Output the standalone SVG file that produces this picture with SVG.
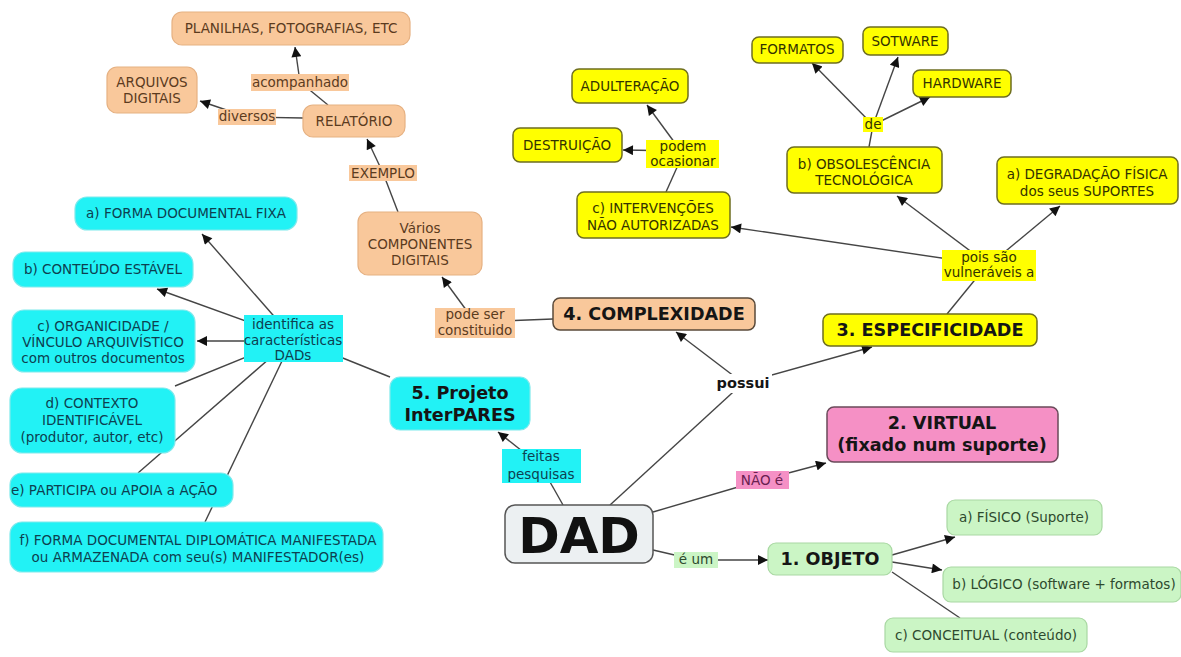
<svg xmlns="http://www.w3.org/2000/svg" width="1181" height="657" viewBox="0 0 1181 657">
<style>
text{font-family:"DejaVu Sans","Verdana",sans-serif;font-size:13.5px;text-anchor:middle}
.b{font-weight:bold;font-size:17.6px;fill:#151515}
.o{fill:#F9C89B;stroke:#E6B182;stroke-width:1.2}
.ol{fill:#F9C89B}
.ot{fill:#5b3b1e}
.y{fill:#FFFF00;stroke:#6e6e20;stroke-width:1.5}
.yl{fill:#FFFF00}
.yt{fill:#333300}
.c{fill:#22F2F5;stroke:#7FE9EC;stroke-width:1.2}
.cl{fill:#22F2F5}
.ct{fill:#0d4050}
.g{fill:#CBF5C5;stroke:#A9D8A3;stroke-width:1.2}
.gl{fill:#CBF5C5}
.gt{fill:#2e4a2e}
.p{fill:#F590C5;stroke:#6a4a5a;stroke-width:1.5}
.pl{fill:#F590C5}
.pt{fill:#6a2050}
.ln{stroke:#454545;stroke-width:1.4;fill:none}
</style>
<defs>
<marker id="ar" viewBox="0 0 10 10" refX="10" refY="5" markerWidth="12" markerHeight="10" orient="auto" markerUnits="userSpaceOnUse">
<path d="M0,0 L10,5 L0,10 z" fill="#111"/>
</marker>
</defs>
<rect width="1181" height="657" fill="#fff"/>

<g id="connectors">
<line class="ln" x1="328" y1="105" x2="300" y2="82"/>
<line class="ln" x1="300" y1="82" x2="295" y2="47" marker-end="url(#ar)"/>
<line class="ln" x1="303" y1="118" x2="247" y2="117"/>
<line class="ln" x1="247" y1="117" x2="200" y2="101" marker-end="url(#ar)"/>
<line class="ln" x1="398" y1="212" x2="383" y2="173"/>
<line class="ln" x1="383" y1="173" x2="367" y2="139" marker-end="url(#ar)"/>
<line class="ln" x1="553" y1="319" x2="475" y2="322"/>
<line class="ln" x1="475" y1="322" x2="442" y2="277" marker-end="url(#ar)"/>
<line class="ln" x1="610" y1="505" x2="743" y2="383"/>
<line class="ln" x1="743" y1="383" x2="676" y2="332" marker-end="url(#ar)"/>
<line class="ln" x1="743" y1="383" x2="872" y2="347" marker-end="url(#ar)"/>
<line class="ln" x1="947" y1="314" x2="987" y2="265"/>
<line class="ln" x1="989" y1="265" x2="897" y2="196" marker-end="url(#ar)"/>
<line class="ln" x1="989" y1="265" x2="1060" y2="206" marker-end="url(#ar)"/>
<line class="ln" x1="989" y1="265" x2="731" y2="227" marker-end="url(#ar)"/>
<line class="ln" x1="869" y1="147" x2="873" y2="125"/>
<line class="ln" x1="873" y1="125" x2="812" y2="63" marker-end="url(#ar)"/>
<line class="ln" x1="873" y1="125" x2="898" y2="57" marker-end="url(#ar)"/>
<line class="ln" x1="873" y1="125" x2="930" y2="97" marker-end="url(#ar)"/>
<line class="ln" x1="666" y1="192" x2="683" y2="154"/>
<line class="ln" x1="683" y1="154" x2="647" y2="105" marker-end="url(#ar)"/>
<line class="ln" x1="683" y1="151" x2="623" y2="150" marker-end="url(#ar)"/>
<line class="ln" x1="390" y1="377" x2="293" y2="338"/>
<line class="ln" x1="293" y1="338" x2="202" y2="234" marker-end="url(#ar)"/>
<line class="ln" x1="293" y1="338" x2="157" y2="289" marker-end="url(#ar)"/>
<line class="ln" x1="293" y1="341" x2="197" y2="341" marker-end="url(#ar)"/>
<line class="ln" x1="293" y1="338" x2="175" y2="386"/>
<line class="ln" x1="293" y1="338" x2="138" y2="473"/>
<line class="ln" x1="293" y1="338" x2="205" y2="522"/>
<line class="ln" x1="563" y1="505" x2="541" y2="466"/>
<line class="ln" x1="541" y1="466" x2="498" y2="432" marker-end="url(#ar)"/>
<line class="ln" x1="653" y1="512" x2="762" y2="480"/>
<line class="ln" x1="762" y1="480" x2="826" y2="463" marker-end="url(#ar)"/>
<line class="ln" x1="653" y1="550" x2="696" y2="560"/>
<line class="ln" x1="696" y1="560" x2="768" y2="560" marker-end="url(#ar)"/>
<line class="ln" x1="892" y1="555" x2="955" y2="537" marker-end="url(#ar)"/>
<line class="ln" x1="892" y1="562" x2="942" y2="570" marker-end="url(#ar)"/>
<line class="ln" x1="892" y1="572" x2="960" y2="618"/>
</g>

<g id="n-planilhas"><rect class="o" x="172" y="12" width="238" height="33" rx="10"/><text class="ot" x="291" y="33">PLANILHAS, FOTOGRAFIAS, ETC</text></g>
<g id="n-arquivos"><rect class="o" x="107" y="67" width="90" height="46" rx="10"/><text class="ot" x="152" y="87">ARQUIVOS</text><text class="ot" x="152" y="103">DIGITAIS</text></g>
<g id="n-relatorio"><rect class="o" x="303" y="105" width="102" height="32" rx="10"/><text class="ot" x="354" y="126">RELATÓRIO</text></g>
<g id="n-varios"><rect class="o" x="358" y="212" width="124" height="63" rx="10"/><text class="ot" x="420" y="233">Vários</text><text class="ot" x="420" y="249">COMPONENTES</text><text class="ot" x="420" y="265">DIGITAIS</text></g>
<g id="n-complexidade"><rect class="o" x="553" y="298" width="202" height="32" rx="7" style="stroke:#5a4a3a;stroke-width:1.5"/><text class="b" x="654" y="320">4. COMPLEXIDADE</text></g>
<g id="l-acompanhado"><rect class="ol" x="251" y="74" width="98" height="17"/><text class="ot" x="300" y="87">acompanhado</text></g>
<g id="l-diversos"><rect class="ol" x="218" y="109" width="58" height="16"/><text class="ot" x="247" y="121">diversos</text></g>
<g id="l-exemplo"><rect class="ol" x="349" y="165" width="68" height="16"/><text class="ot" x="383" y="178">EXEMPLO</text></g>
<g id="l-pode"><rect class="ol" x="435" y="308" width="80" height="30"/><text class="ot" x="475" y="319">pode ser</text><text class="ot" x="475" y="335">constituido</text></g>

<g id="n-adulteracao"><rect class="y" x="572" y="69" width="116" height="34" rx="7"/><text class="yt" x="630" y="91">ADULTERAÇÃO</text></g>
<g id="n-destruicao"><rect class="y" x="513" y="128" width="109" height="34" rx="7"/><text class="yt" x="567" y="150">DESTRUIÇÃO</text></g>
<g id="n-intervencoes"><rect class="y" x="577" y="192" width="153" height="46" rx="7"/><text class="yt" x="653" y="213">c) INTERVENÇÕES</text><text class="yt" x="653" y="230">NÃO AUTORIZADAS</text></g>
<g id="n-formatos"><rect class="y" x="752" y="37" width="91" height="26" rx="7"/><text class="yt" x="797" y="54">FORMATOS</text></g>
<g id="n-sotware"><rect class="y" x="863" y="27" width="85" height="28" rx="7"/><text class="yt" x="905" y="46">SOTWARE</text></g>
<g id="n-hardware"><rect class="y" x="913" y="70" width="98" height="27" rx="7"/><text class="yt" x="962" y="88">HARDWARE</text></g>
<g id="n-obsolescencia"><rect class="y" x="787" y="147" width="155" height="46" rx="7"/><text class="yt" x="864" y="169">b) OBSOLESCÊNCIA</text><text class="yt" x="864" y="185">TECNOLÓGICA</text></g>
<g id="n-degradacao"><rect class="y" x="997" y="157" width="181" height="47" rx="7"/><text class="yt" x="1087" y="179">a) DEGRADAÇÃO FÍSICA</text><text class="yt" x="1087" y="196">dos seus SUPORTES</text></g>
<g id="n-especificidade"><rect class="y" x="823" y="314" width="214" height="32" rx="7"/><text class="b" x="930" y="336">3. ESPECIFICIDADE</text></g>
<g id="l-podem"><rect class="yl" x="646" y="140" width="73" height="28"/><text class="yt" x="683" y="151">podem</text><text class="yt" x="683" y="166">ocasionar</text></g>
<g id="l-de"><rect class="yl" x="863" y="117" width="20" height="15"/><text class="yt" x="873" y="129">de</text></g>
<g id="l-pois"><rect class="yl" x="942" y="250" width="94" height="31"/><text class="yt" x="989" y="262">pois são</text><text class="yt" x="989" y="277">vulneráveis a</text></g>

<g id="n-forma"><rect class="c" x="75" y="197" width="222" height="33" rx="12"/><text class="ct" x="186" y="218">a) FORMA DOCUMENTAL FIXA</text></g>
<g id="n-conteudo"><rect class="c" x="13" y="252" width="180" height="35" rx="12"/><text class="ct" x="103" y="274">b) CONTEÚDO ESTÁVEL</text></g>
<g id="n-organicidade"><rect class="c" x="12" y="310" width="183" height="62" rx="12"/><text class="ct" x="103" y="331">c) ORGANICIDADE /</text><text class="ct" x="103" y="347">VÍNCULO ARQUIVÍSTICO</text><text class="ct" x="103" y="363">com outros documentos</text></g>
<g id="n-contexto"><rect class="c" x="10" y="388" width="165" height="65" rx="12"/><text class="ct" x="92" y="408">d) CONTEXTO</text><text class="ct" x="92" y="425">IDENTIFICÁVEL</text><text class="ct" x="92" y="442">(produtor, autor, etc)</text></g>
<g id="n-participa"><rect class="c" x="10" y="473" width="223" height="34" rx="12"/><text class="ct" x="11" y="495" style="text-anchor:start">e) PARTICIPA ou APOIA a AÇÃO</text></g>
<g id="n-diplomatica"><rect class="c" x="10" y="522" width="373" height="50" rx="12"/><text class="ct" x="198" y="545">f) FORMA DOCUMENTAL DIPLOMÁTICA MANIFESTADA</text><text class="ct" x="198" y="562">ou ARMAZENADA com seu(s) MANIFESTADOR(es)</text></g>
<g id="n-interpares"><rect class="c" x="390" y="377" width="140" height="53" rx="10"/><text class="b" x="460" y="399">5. Projeto</text><text class="b" x="460" y="421">InterPARES</text></g>
<g id="l-identifica"><rect class="cl" x="244" y="315" width="99" height="47"/><text class="ct" x="293" y="329">identifica as</text><text class="ct" x="293" y="345">características</text><text class="ct" x="293" y="360">DADs</text></g>
<g id="l-feitas"><rect class="cl" x="502" y="449" width="79" height="34"/><text class="ct" x="541" y="461">feitas</text><text class="ct" x="541" y="479">pesquisas</text></g>

<g id="n-dad"><rect x="505" y="505" width="148" height="58" rx="10" fill="#ECF0F2" stroke="#555" stroke-width="1.5"/><text x="579" y="553" style="font-weight:bold;font-size:50px;fill:#111">DAD</text></g>
<g id="l-possui"><rect x="714" y="374" width="58" height="19" fill="#fff"/><text x="743" y="388" style="font-weight:bold;font-size:14.5px;fill:#151515">possui</text></g>

<g id="n-virtual"><rect class="p" x="827" y="407" width="231" height="55" rx="7"/><text class="b" x="942" y="429">2. VIRTUAL</text><text class="b" x="942" y="451">(fixado num suporte)</text></g>
<g id="l-nao"><rect class="pl" x="736" y="471" width="53" height="18"/><text class="pt" x="762" y="485">NÃO é</text></g>

<g id="n-objeto"><rect class="g" x="768" y="543" width="124" height="32" rx="8"/><text class="b" x="830" y="565">1. OBJETO</text></g>
<g id="n-fisico"><rect class="g" x="947" y="500" width="155" height="35" rx="8"/><text class="gt" x="1024" y="522">a) FÍSICO (Suporte)</text></g>
<g id="n-logico"><rect class="g" x="943" y="567" width="238" height="35" rx="8"/><text class="gt" x="1064" y="589">b) LÓGICO (software + formatos)</text></g>
<g id="n-conceitual"><rect class="g" x="885" y="618" width="202" height="34" rx="8"/><text class="gt" x="986" y="640">c) CONCEITUAL (conteúdo)</text></g>
<g id="l-eum"><rect class="gl" x="674" y="552" width="44" height="16"/><text class="gt" x="696" y="564">é um</text></g>
</svg>
